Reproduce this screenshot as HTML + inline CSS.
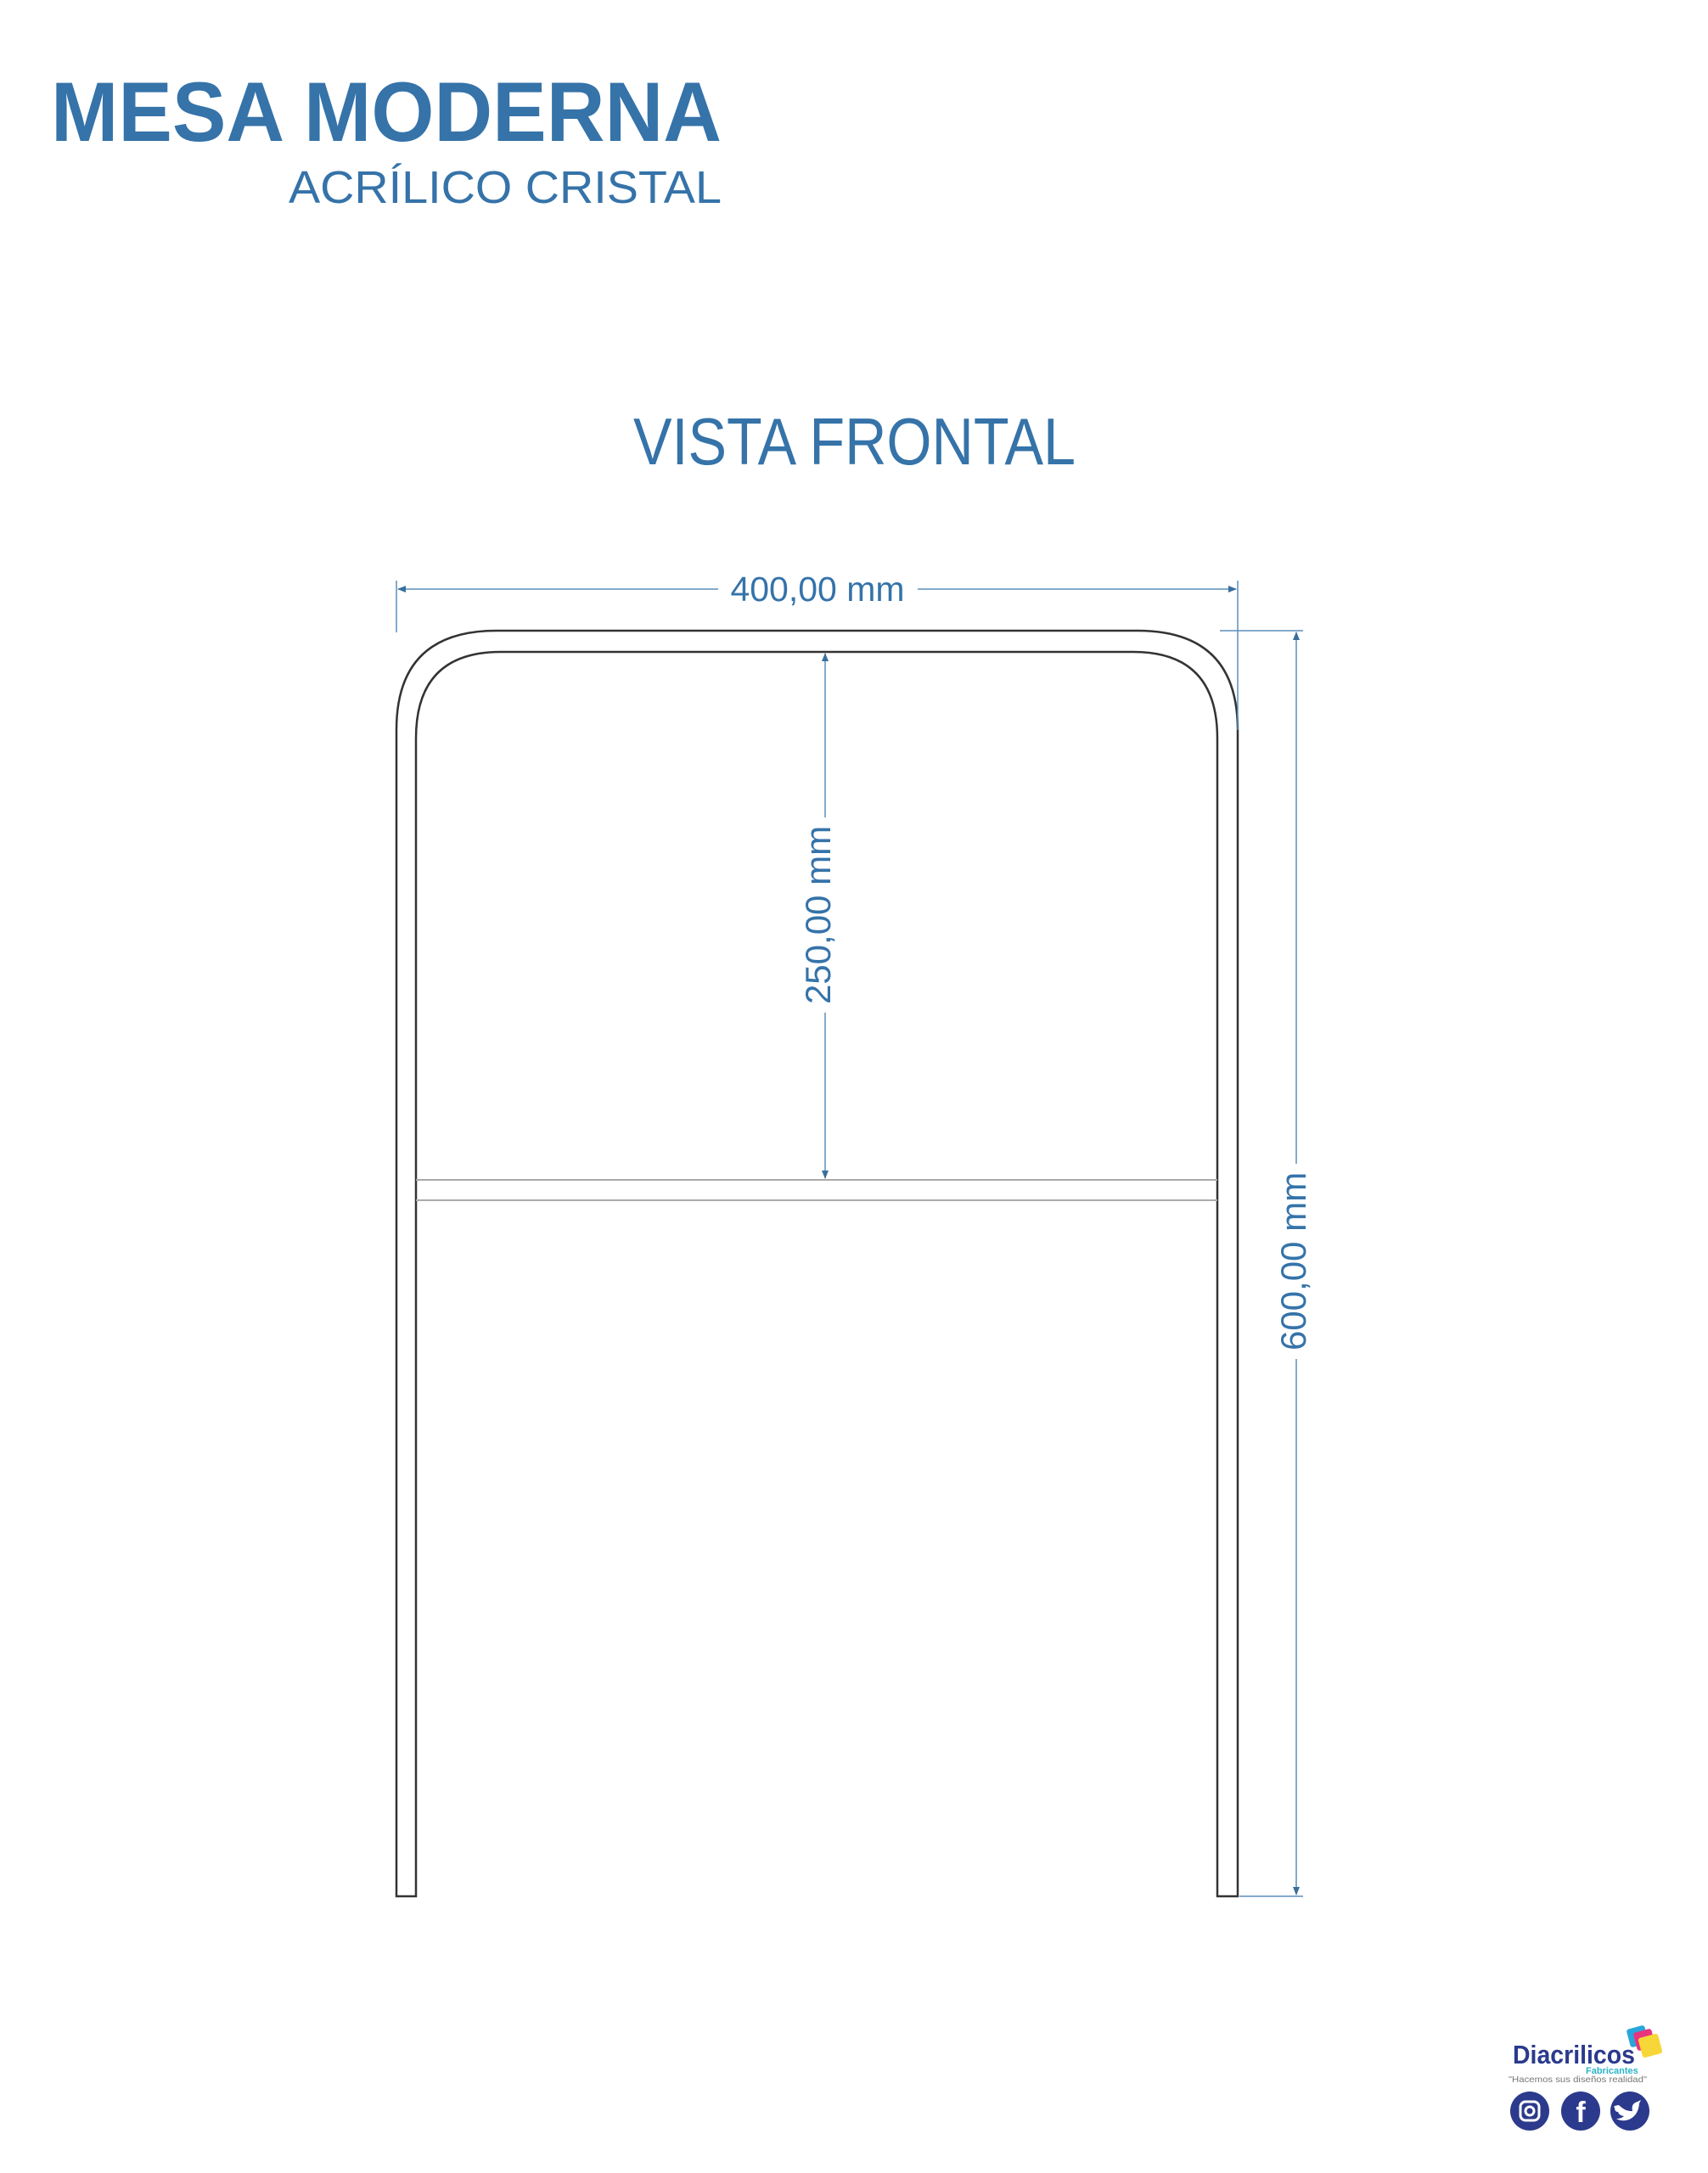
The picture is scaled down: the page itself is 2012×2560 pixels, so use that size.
<!DOCTYPE html>
<html><head><meta charset="utf-8"><style>
html,body{margin:0;padding:0;background:#fff;}
body{width:2012px;height:2560px;position:relative;overflow:hidden;font-family:"Liberation Sans",sans-serif;}
</style></head><body>
<svg width="2012" height="2560" viewBox="0 0 2012 2560" xmlns="http://www.w3.org/2000/svg" style="position:absolute;left:0;top:0">
<defs>
<marker id="a" markerWidth="10" markerHeight="8" refX="9" refY="4" orient="auto" markerUnits="userSpaceOnUse"><path d="M0,0 L10,4 L0,8 Z" fill="#3a6f9c"/></marker>
</defs>
<text x="60" y="166" font-family="Liberation Sans" font-weight="bold" font-size="99" fill="#3573a9" textLength="790" lengthAdjust="spacingAndGlyphs">MESA MODERNA</text>
<text x="340" y="239" font-family="Liberation Sans" font-size="54" fill="#3573a9" textLength="510" lengthAdjust="spacingAndGlyphs">ACRÍLICO CRISTAL</text>
<text x="746" y="547" font-family="Liberation Sans" font-size="78" fill="#3573a9" textLength="521" lengthAdjust="spacingAndGlyphs">VISTA FRONTAL</text>

<g fill="none" stroke="#333" stroke-width="2.5">
<path d="M467,2234 L467,860 Q467,743 585,743 L1340,743 Q1458,743 1458,860 L1458,2234 L1434,2234 L1434,870 Q1434,768 1335,768 L590,768 Q490,768 490,870 L490,2234 Z"/>
</g>
<line x1="490" y1="1390" x2="1434" y2="1390" stroke="#aaa" stroke-width="2"/>
<line x1="490" y1="1414" x2="1434" y2="1414" stroke="#aaa" stroke-width="2"/>

<g stroke="#5b8fbb" stroke-width="1.5" fill="none">
<line x1="467" y1="684" x2="467" y2="745"/>
<line x1="1458" y1="684" x2="1458" y2="860"/>
<line x1="846" y1="694" x2="469" y2="694" marker-end="url(#a)"/>
<line x1="1081" y1="694" x2="1456" y2="694" marker-end="url(#a)"/>
<line x1="1437" y1="743" x2="1535" y2="743"/>
<line x1="1460" y1="2234" x2="1535" y2="2234"/>
<line x1="1527" y1="1371" x2="1527" y2="745" marker-end="url(#a)"/>
<line x1="1527" y1="1601" x2="1527" y2="2232" marker-end="url(#a)"/>
<line x1="972" y1="963" x2="972" y2="770" marker-end="url(#a)"/>
<line x1="972" y1="1193" x2="972" y2="1388" marker-end="url(#a)"/>
</g>
<text x="963" y="708" text-anchor="middle" font-family="Liberation Sans" font-size="41" fill="#3573a9">400,00 mm</text>
<text transform="translate(978 1078) rotate(-90)" text-anchor="middle" font-family="Liberation Sans" font-size="42" fill="#3573a9">250,00 mm</text>
<text transform="translate(1538 1486) rotate(-90)" text-anchor="middle" font-family="Liberation Sans" font-size="42" fill="#3573a9">600,00 mm</text>

<rect x="1918" y="2388" width="22" height="22" rx="3" fill="#2aa5dc" transform="rotate(-15 1929 2399)"/>
<rect x="1926" y="2392" width="22" height="22" rx="3" fill="#e8347c" transform="rotate(-15 1937 2403)"/>
<rect x="1932" y="2398" width="24" height="24" rx="3" fill="#f7d737" transform="rotate(-15 1944 2410)"/>
<text x="1782" y="2431" font-family="Liberation Sans" font-weight="bold" font-size="31" fill="#2b3a8c" textLength="144" lengthAdjust="spacingAndGlyphs">Diacrilicos</text>
<text x="1868" y="2443" font-family="Liberation Sans" font-weight="bold" font-size="11" fill="#2bb5c8">Fabricantes</text>
<text x="1777" y="2453" font-family="Liberation Sans" font-size="10.5" fill="#777" textLength="163" lengthAdjust="spacingAndGlyphs">"Hacemos sus diseños realidad"</text>
<circle cx="1802" cy="2487" r="23" fill="#2b3a8c"/>
<circle cx="1862" cy="2487" r="23" fill="#2b3a8c"/>
<circle cx="1920" cy="2487" r="23" fill="#2b3a8c"/>
<rect x="1791" y="2476" width="22" height="22" rx="6" fill="none" stroke="#fff" stroke-width="3"/>
<circle cx="1802" cy="2487" r="5" fill="none" stroke="#fff" stroke-width="3"/>
<text x="1862" y="2500" text-anchor="middle" font-family="Liberation Sans" font-weight="bold" font-size="34" fill="#fff">f</text>
<path d="M1907,2480 q8,8 16,7 q-2,-9 6,-11 l4,-2 -2,4 q-1,14 -12,19 q-8,3 -15,-1 q6,0 9,-3 q-6,-1 -7,-5 q-4,0 -4,-5 q-3,-2 5,-3 z" fill="#fff"/>
</svg>
</body></html>
